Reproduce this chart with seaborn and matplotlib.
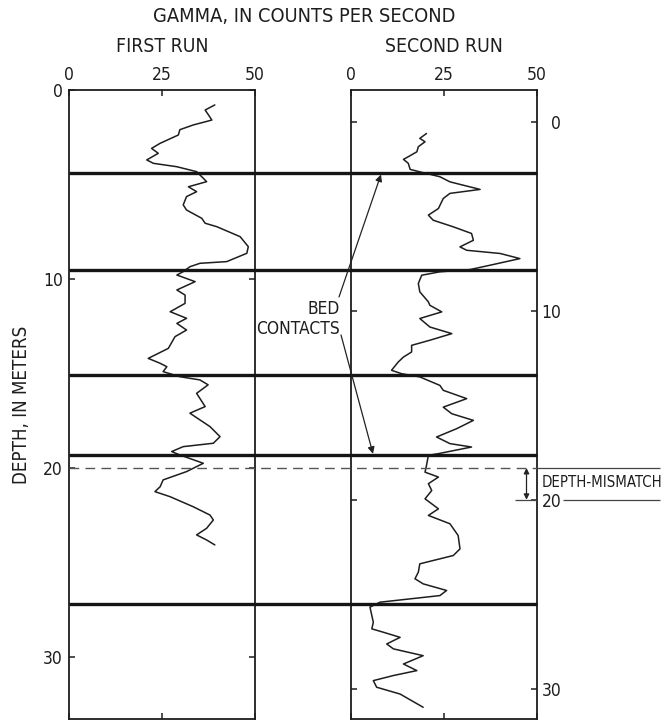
import matplotlib
matplotlib.use("Agg")
import matplotlib.pyplot as plt
from matplotlib import font_manager as fm
import seaborn as sns

# ---------------- data ----------------
first_depth = [0.79, 1.06, 1.32, 1.59, 1.85, 2.10, 2.38, 2.82, 3.09, 3.35, 3.70, 3.88,
               4.06, 4.32, 4.67, 4.85, 5.12, 5.38, 5.64, 6.08, 6.35, 6.79, 7.05, 7.23,
               7.76, 8.29, 8.64, 9.08, 9.17, 9.35, 9.61, 9.79, 10.14, 10.58, 10.85, 11.29,
               11.73, 12.08, 12.35, 12.70, 13.05, 13.67, 14.20, 14.46, 14.64, 14.90, 15.17,
               15.34, 15.60, 16.05, 16.75, 17.10, 17.81, 18.34, 18.69, 18.87, 19.13, 19.31,
               19.75, 20.19, 20.63, 20.99, 21.25, 21.52, 22.05, 22.49, 22.75, 23.19, 23.54,
               23.81, 24.07]
first_gamma = [39.2, 36.6, 37.5, 38.4, 33.4, 29.8, 29.4, 24.5, 22.2, 24.0, 20.9, 22.7,
               29.0, 34.3, 36.1, 37.0, 32.1, 34.3, 31.6, 30.7, 31.6, 35.7, 36.6, 39.7,
               46.0, 48.2, 47.8, 42.4, 35.2, 32.5, 30.7, 29.0, 33.9, 29.0, 31.2, 31.2,
               27.2, 31.6, 29.0, 31.6, 28.5, 26.7, 21.3, 24.5, 26.3, 25.3, 29.8,
               35.2, 37.4, 34.3, 36.6, 32.5, 37.9, 40.6, 38.8, 30.7, 27.6, 29.8,
               36.1, 31.6, 25.3, 24.5, 23.1, 27.2, 33.4, 37.9, 38.8, 37.0, 34.3,
               37.0, 39.2]

second_depth = [0.62, 0.88, 1.06, 1.32, 1.59, 1.85, 1.99, 2.20, 2.52, 2.65, 2.91, 3.18,
                3.58, 3.79, 4.06, 4.59, 4.94, 5.21, 5.56, 5.91, 6.27, 6.62, 6.80, 6.97,
                7.24, 7.59, 7.82, 7.94, 8.12, 8.56, 9.00, 9.53, 9.71, 10.06, 10.41, 10.86,
                11.21, 11.56, 11.83, 12.18, 12.45, 12.71, 13.15, 13.33, 13.50, 13.95, 14.21,
                14.65, 15.10, 15.45, 15.80, 16.24, 16.68, 17.03, 17.21, 17.56, 17.65, 18.18,
                18.54, 18.80, 19.15, 19.51, 19.95, 20.48, 20.83, 21.27, 21.89, 22.60, 22.95,
                23.39, 23.83, 24.18, 24.45, 24.80, 25.07, 25.42, 25.68, 26.13, 26.48, 26.83,
                27.01, 27.28, 27.63, 27.89, 28.25, 28.69, 29.04, 29.30, 29.57, 29.92, 30.28,
                30.98]
second_gamma = [20.3, 18.5, 19.9, 18.1, 17.7, 15.4, 14.1, 15.4, 15.9, 18.5, 23.9, 26.6,
                34.7, 26.6, 24.8, 23.5, 20.8, 22.1, 27.5, 32.4, 32.9, 29.3, 31.1, 40.1,
                45.4, 37.4, 32.0, 23.9, 19.0, 18.1, 18.5, 20.8, 21.2, 24.4, 18.5, 21.2,
                27.1, 21.2, 16.3, 16.3, 14.1, 12.7, 10.9, 13.6, 18.5, 23.9, 24.8,
                31.1, 24.8, 27.1, 32.9, 28.4, 23.0, 26.6, 32.4, 23.5, 20.8, 20.3,
                19.9, 23.5, 20.8, 21.7, 19.9, 23.5, 20.8, 26.6, 28.8, 29.3, 27.5,
                18.5, 18.1, 17.2, 19.4, 25.7, 23.9, 7.8, 5.1, 5.6, 6.0, 5.6,
                8.7, 13.2, 9.6, 11.4, 19.4, 14.1, 17.7, 11.4, 6.0, 6.9, 13.2,
                19.4]

bed_contacts = [4.40, 9.52, 15.08, 19.31, 27.20]   # depths on first-run scale
depth_mismatch = 1.68                               # metres
mismatch_depth = 20
gamma_ticks = [0, 25, 50]
depth_ticks = [0, 10, 20, 30]

# ---------------- styling ----------------
sns.set_theme(style="white")
plt.rcParams['font.family'] = ['DejaVu Sans']
INK = '#1e1e1e'


def pick_condensed():
    prefs = ['LiberationSansNarrow-Regular', 'DejaVuSansCondensed.ttf',
             'RobotoCondensed-Regular', 'OpenSans_Condensed-Regular',
             'OpenSansCondensed-Regular', 'NotoSans-Condensed', 'Roboto_Condensed-Regular']
    files = [f.fname for f in fm.fontManager.ttflist]
    for p in prefs:
        for fn in files:
            if p.lower() in fn.lower().replace(' ', ''):
                return fm.FontProperties(fname=fn)
    for f in fm.fontManager.ttflist:
        if f.stretch in ('condensed', 'semi-condensed') and f.style == 'normal' \
                and f.weight in (400, 'normal', 'regular'):
            return fm.FontProperties(fname=f.fname)
    return fm.FontProperties(family='DejaVu Sans')


FP = pick_condensed()

W, H = 671, 721
fig = plt.figure(figsize=(W / 100, H / 100), dpi=100)
fig.patch.set_facecolor('white')

top_px, bot_px = 90, 719
px_per_m = 18.9
span = (bot_px - top_px) / px_per_m
axL = fig.add_axes([69 / W, 1 - bot_px / H, 186 / W, (bot_px - top_px) / H])
axR = fig.add_axes([351 / W, 1 - bot_px / H, 186 / W, (bot_px - top_px) / H])

sns.lineplot(x=first_gamma, y=first_depth, sort=False, estimator=None,
             ax=axL, color=INK, lw=1.1)
sns.lineplot(x=second_gamma, y=second_depth, sort=False, estimator=None,
             ax=axR, color=INK, lw=1.1)

axL.set_ylim(span, 0)
axR.set_ylim(span - depth_mismatch, -depth_mismatch)

for ax in (axL, axR):
    ax.set_facecolor('none')
    ax.set_xlim(0, 50)
    ax.set_xticks(gamma_ticks)
    ax.set_yticks(depth_ticks)
    ax.set_xlabel('')
    ax.set_ylabel('')
    for s in ax.spines.values():
        s.set_visible(True)
        s.set_color(INK)
        s.set_linewidth(1.3)
    ax.tick_params(axis='x', which='major', top=True, bottom=True, labeltop=True,
                   labelbottom=False, direction='in', length=4.5, width=1.1,
                   color=INK, labelsize=12, labelcolor=INK, pad=4.5)
    ax.tick_params(axis='y', which='major', left=True, right=True, direction='in',
                   length=4.5, width=1.1, color=INK, labelsize=12, labelcolor=INK)

axL.tick_params(axis='y', labelleft=True, labelright=False, pad=4.3)
axR.tick_params(axis='y', labelleft=False, labelright=True, pad=17.5)
for ax in (axL, axR):
    for t in ax.xaxis.get_major_ticks() + ax.yaxis.get_major_ticks():
        for lab in (t.label1, t.label2):
            lab.set_fontproperties(FP)
            lab.set_fontsize(12.5)
for t in axR.yaxis.get_major_ticks():
    t.label2.set_horizontalalignment('right')

# ---------------- overlay for contacts and annotations ----------------
ov = fig.add_axes([0, 1 - bot_px / H, 1, (bot_px - top_px) / H], zorder=5)
ov.set_xlim(0, W)
ov.set_ylim(span, 0)
ov.axis('off')
ov.patch.set_alpha(0)

ov.hlines(bed_contacts, 69, 537, color='#151515', lw=2.4)
ov.hlines(mismatch_depth, 69, 537, color='#555555', lw=1.0, linestyles=(0, (7, 4.5)))
ov.hlines(mismatch_depth, 537, 660, color='#444444', lw=0.9)
ov.hlines(mismatch_depth + depth_mismatch, 515, 537, color='#444444', lw=0.9)
ov.hlines(mismatch_depth + depth_mismatch, 563, 660, color='#444444', lw=0.9)
ov.annotate('', xy=(526.5, mismatch_depth), xytext=(526.5, mismatch_depth + depth_mismatch),
            arrowprops=dict(arrowstyle='<|-|>', lw=0.9, color='#222222',
                            mutation_scale=8, shrinkA=0, shrinkB=0))

texts = []
texts.append((ov.text(542, 20.78, 'DEPTH-MISMATCH', fontproperties=FP, fontsize=12,
                      color=INK, ha='left', va='center'), 120, True))
t_bed = ov.text(340, 11.6, 'BED', fontproperties=FP, fontsize=13, color=INK,
                ha='right', va='center')
t_con = ov.text(340, 12.62, 'CONTACTS', fontproperties=FP, fontsize=13, color=INK,
                ha='right', va='center')
texts.append((t_con, 83, True))
ov.annotate('', xy=(381, 4.47), xytext=(339, 10.95),
            arrowprops=dict(arrowstyle='-|>', lw=0.9, color='#222222',
                            mutation_scale=10, shrinkA=0, shrinkB=0))
ov.annotate('', xy=(373, 19.25), xytext=(341, 12.96),
            arrowprops=dict(arrowstyle='-|>', lw=0.9, color='#222222',
                            mutation_scale=10, shrinkA=0, shrinkB=0))

# ---------------- titles ----------------
texts.append((fig.text(304 / W, 1 - 17 / H, 'GAMMA, IN COUNTS PER SECOND', fontproperties=FP,
                       fontsize=15, color=INK, ha='center', va='center'), 303, True))
texts.append((fig.text(162 / W, 1 - 47 / H, 'FIRST RUN', fontproperties=FP, fontsize=15,
                       color=INK, ha='center', va='center'), 93, True))
texts.append((fig.text(444 / W, 1 - 47 / H, 'SECOND RUN', fontproperties=FP, fontsize=15,
                       color=INK, ha='center', va='center'), 118, True))
texts.append((fig.text(22 / W, 1 - 405 / H, 'DEPTH, IN METERS', fontproperties=FP,
                       fontsize=14.5, color=INK, ha='center', va='center', rotation=90),
              158, False))

# fit text sizes to the widths seen in the reference
renderer = fig.canvas.get_renderer()
for t, target, horiz in texts:
    bb = t.get_window_extent(renderer)
    size = bb.width if horiz else bb.height
    if size > 0:
        t.set_fontsize(t.get_fontsize() * target / size)
t_bed.set_fontsize(t_con.get_fontsize())

fig.savefig('out.png', dpi=100, facecolor='white')
